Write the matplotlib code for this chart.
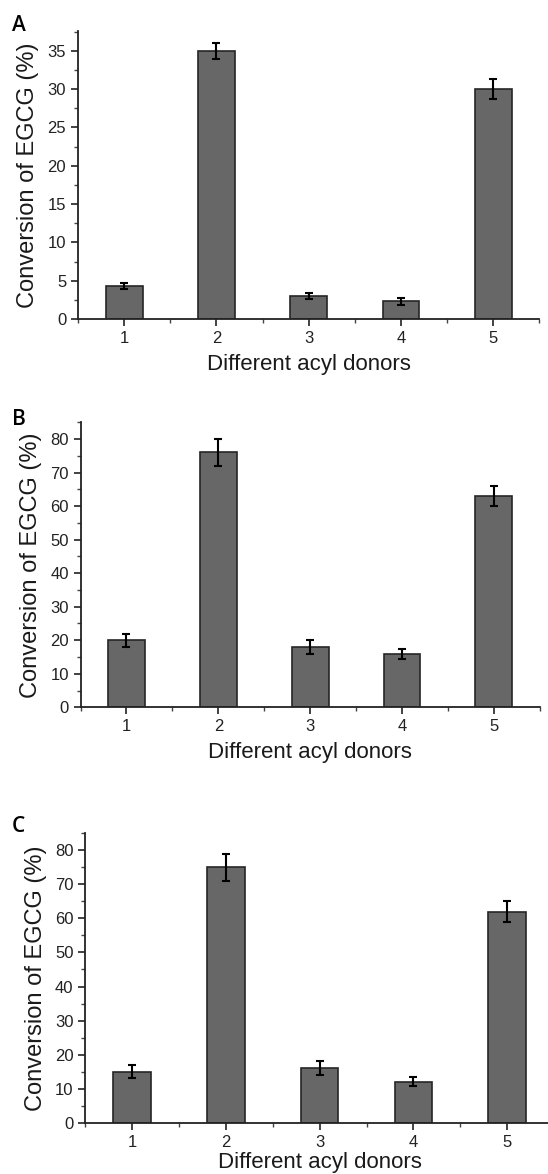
import matplotlib
matplotlib.use("Agg")
import matplotlib.pyplot as plt
from matplotlib.ticker import MultipleLocator

plt.rcParams['font.family'] = ['Liberation Sans', 'DejaVu Sans']

donors = [1, 2, 3, 4, 5]

# conversion of EGCG (%) and error for each panel
conv_a = [4.3, 35.0, 3.0, 2.3, 30.0]
err_a = [0.4, 1.0, 0.4, 0.45, 1.3]
conv_b = [20.0, 76.0, 18.0, 16.0, 63.0]
err_b = [2.0, 4.0, 2.2, 1.5, 3.0]
conv_c = [15.0, 75.0, 16.0, 12.0, 62.0]
err_c = [2.0, 4.0, 2.0, 1.3, 3.0]

panels = [
    # label, values, errors, ymax, major, minor, axes rect, xlabel pad
    ("A", conv_a, err_a, 37.6, 5, 2.5, [0.1423, 0.7283, 0.842, 0.2453], 6),
    ("B", conv_b, err_b, 85, 10, 5, [0.147, 0.3975, 0.838, 0.2428], 6),
    ("C", conv_c, err_c, 85, 10, 5, [0.1558, 0.0437, 0.855, 0.2465], 2),
]
label_y = [0.987, 0.652, 0.305]

fig = plt.figure(figsize=(5.48, 11.74), dpi=100)

for (lab, vals, errs, ymax, major, minor, rect, xpad), ly in zip(panels, label_y):
    ax = fig.add_axes(rect)
    ax.bar(donors, vals, width=0.4, color="#676767", edgecolor="#262626",
           linewidth=1.2, zorder=2)
    ax.errorbar(donors, vals, yerr=errs, fmt="none", ecolor="black",
                elinewidth=1.5, capsize=3.2, capthick=1.5, zorder=3)
    ax.set_xlim(0.5, 5.5)
    ax.set_ylim(0, ymax)
    ax.set_xticks(donors)
    ax.xaxis.set_minor_locator(MultipleLocator(0.5))
    ax.yaxis.set_major_locator(MultipleLocator(major))
    ax.yaxis.set_minor_locator(MultipleLocator(minor))
    for s in ["top", "right"]:
        ax.spines[s].set_visible(False)
    for s in ["left", "bottom"]:
        ax.spines[s].set_linewidth(1.3)
        ax.spines[s].set_color("#222222")
    ax.tick_params(which="major", direction="out", length=5, width=1.2,
                   labelsize=12, pad=3.5, color="#222222", labelcolor="#222222")
    ax.tick_params(which="minor", direction="out", length=3, width=1.0,
                   color="#444444")
    ax.set_ylabel("Conversion of EGCG (%)", fontsize=17, labelpad=6,
                  color="#1a1a1a")
    ax.set_xlabel("Different acyl donors", fontsize=16, labelpad=xpad,
                  color="#1a1a1a")
    fig.text(0.022, ly, lab, fontsize=15, fontweight="semibold",
             family=["Open Sans", "DejaVu Sans"], va="top", ha="left")

fig.savefig("out.png", dpi=100, facecolor="white")
